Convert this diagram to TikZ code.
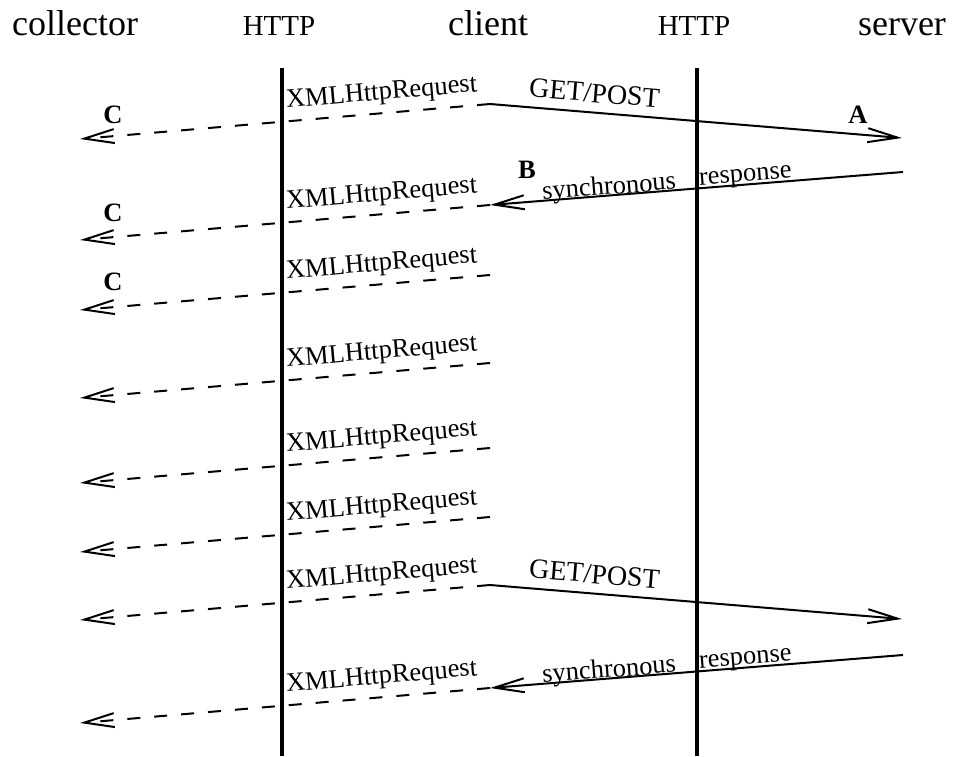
\documentclass[tikz,border=0pt]{standalone}
\usepackage{fontspec}
\setmainfont{Liberation Serif}
\usetikzlibrary{arrows.meta,positioning}

\tikzset{
  head/.style={font=\fontsize{36}{40}\selectfont, anchor=base},
  proto/.style={font=\fontsize{29}{32}\selectfont, anchor=base},
  lbl/.style={font=\fontsize{26.5}{30}\selectfont, inner sep=0pt},
  tag/.style={font=\fontsize{26.5}{30}\selectfont\bfseries, inner sep=0pt},
  wire/.style={line width=4pt},
  msg/.style={line width=2pt, -{Straight Barb[length=30pt,width=14pt]}},
  poll/.style={msg, dash pattern=on 13pt off 14pt},
}

\begin{document}
\begin{tikzpicture}[x=1pt,y=-1pt]
      \useasboundingbox (0,0) rectangle (954,756);

      \node[head](collector) at (75,35){collector};
      \node[proto](http1) at (279,35){HTTP};
      \node[head](client) at (488,35){client};
      \node[proto](http2) at (694,35){HTTP};
      \node[head](server) at (902,35){server};

      \coordinate (top1) at (282,68);
      \coordinate (bot1) at (282,756);
      \coordinate (top2) at (697,68);
      \coordinate (bot2) at (697,756);
      \draw[wire] (top1) -- (bot1);
      \draw[wire] (top2) -- (bot2);

      \foreach \n/\y in {1/104,2/205,3/275,4/363,5/448,6/517,7/585,8/688}{
        \coordinate (c\n) at (490,\y);
        \coordinate (col\n) at (80,\y+35);
        \draw[poll] (c\n) -- node[lbl, pos=0.26, sloped, above=7pt](xhr\n){XMLHttpRequest} (col\n);
      }

      \coordinate (s1) at (902,138);
      \coordinate (s2) at (903,172);
      \coordinate (s7) at (902,619);
      \coordinate (s8) at (903,655);

      \draw[msg] (c1) -- node[lbl, font=\fontsize{28}{30}\selectfont, pos=0.25, sloped, above=9pt](get1){GET/POST} (s1);
      \draw[msg] (s2) -- node[lbl, pos=0.38, sloped, anchor=base, yshift=3pt](resp1){response}
                         node[lbl, pos=0.71, sloped, anchor=base, yshift=1pt](sync1){synchronous} (c2);
      \draw[msg] (c7) -- node[lbl, font=\fontsize{28}{30}\selectfont, pos=0.25, sloped, above=9pt](get7){GET/POST} (s7);
      \draw[msg] (s8) -- node[lbl, pos=0.38, sloped, anchor=base, yshift=3pt](resp8){response}
                         node[lbl, pos=0.71, sloped, anchor=base, yshift=1pt](sync8){synchronous} (c8);

      \node[tag](a) at (858,115){A};
      \node[tag](b) at (527,170){B};
      \node[tag](cc1) at (113,115){C};
      \node[tag](cc2) at (113,213){C};
      \node[tag](cc3) at (113,282){C};

\end{tikzpicture}
\end{document}
